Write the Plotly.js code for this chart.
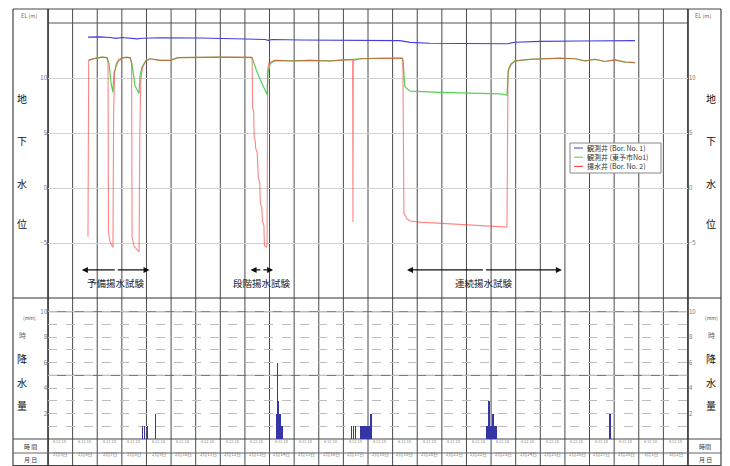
<!DOCTYPE html>
<html><head><meta charset="utf-8">
<script src="https://cdn.plot.ly/plotly-3.0.1.min.js"></script>
<style>html,body{margin:0;padding:0;background:#fff}#chart{width:730px;height:466px}</style>
</head><body><div id="chart"></div>
<script>
const YEAR = '2013-';
const seriesNames = ['観測井 (Bor. No. 1)', '観測井 (東予市No1)', '揚水井 (Bor. No. 2)'];
const seriesColors = ['#4040dc', '#55d055', '#ff3434'];

// 観測井 (Bor. No. 1)
const blueTimes = ['02-06 15:00','02-07 02:40','02-07 12:30','02-07 18:20','02-08 00:00','02-08 08:00','02-08 15:00','02-08 19:40','02-09 13:10','02-11 04:20','02-12 09:30','02-13 05:00','02-13 19:40','02-13 22:30','02-14 02:30','02-15 05:45','02-16 11:00','02-18 02:00','02-19 07:10','02-19 17:00','02-20 12:30','02-21 17:45','02-23 08:40','02-23 16:30','02-23 23:20','02-24 23:45','02-26 14:40','02-28 20:20'];
const blueLevels = [13.72,13.74,13.68,13.6,13.68,13.64,13.56,13.62,13.66,13.63,13.6,13.56,13.5,13.42,13.5,13.46,13.43,13.42,13.4,13.24,13.16,13.13,13.1,13.12,13.25,13.33,13.36,13.4];

// 観測井 (東予市No1)
const greenTimes = ['02-06 15:20','02-06 21:50','02-07 04:40','02-07 09:30','02-07 11:30','02-07 13:30','02-07 15:20','02-07 16:20','02-07 17:20','02-07 20:15','02-08 00:00','02-08 04:00','02-08 08:00','02-08 10:00','02-08 12:50','02-08 16:50','02-08 17:40','02-08 19:40','02-08 23:30','02-09 03:30','02-09 13:10','02-09 23:00','02-10 06:45','02-11 23:45','02-13 07:00','02-13 08:50','02-13 10:50','02-13 14:40','02-13 18:40','02-13 21:35','02-13 22:30','02-14 00:30','02-14 05:20','02-14 20:00','02-15 15:25','02-16 11:00','02-17 01:40','02-17 16:20','02-18 11:45','02-19 09:10','02-19 10:10','02-19 12:00','02-19 17:00','02-20 02:40','02-20 22:15','02-21 17:45','02-22 13:10','02-23 08:40','02-23 15:30','02-23 17:00','02-23 19:30','02-23 23:20','02-24 14:00','02-25 19:10','02-26 09:50','02-26 19:40','02-27 05:20','02-27 15:00','02-28 00:45','02-28 10:30','02-28 20:20'];
const greenLevels = [11.65,11.8,11.9,11.85,11.3,9.5,8.7,10.5,10.8,11.5,11.8,11.9,11.85,11.2,9.3,8.6,10.2,11.0,11.6,11.75,11.6,11.6,11.85,11.9,11.85,11.3,10.8,9.9,9.0,8.5,10.5,11.3,11.6,11.55,11.6,11.55,11.65,11.75,11.8,11.8,11.5,9.2,8.8,8.75,8.7,8.65,8.6,8.55,8.45,10.8,11.3,11.55,11.7,11.8,11.75,11.55,11.7,11.5,11.65,11.45,11.4];

// 揚水井 (Bor. No. 2)
const redTimes = ['02-06 15:00','02-06 15:40','02-06 20:00','02-07 04:40','02-07 09:30','02-07 10:30','02-07 11:00','02-07 12:30','02-07 14:00','02-07 15:20','02-07 16:00','02-07 17:00','02-07 18:30','02-07 21:00','02-08 02:00','02-08 08:00','02-08 09:30','02-08 10:00','02-08 12:00','02-08 14:30','02-08 16:50','02-08 17:30','02-08 18:30','02-08 20:00','02-08 23:00','02-09 03:30','02-09 13:10','02-09 23:00','02-10 06:45','02-11 23:45','02-13 06:00','02-13 07:00','02-13 07:30','02-13 08:30','02-13 09:00','02-13 10:00','02-13 10:30','02-13 12:00','02-13 13:00','02-13 14:30','02-13 15:00','02-13 16:30','02-13 17:00','02-13 18:30','02-13 19:00','02-13 21:00','02-13 21:40','02-13 22:10','02-13 23:30','02-14 05:20','02-14 20:00','02-15 15:25','02-16 11:00','02-17 01:40','02-17 09:00','02-17 09:20','02-17 09:40','02-17 16:20','02-18 11:45','02-19 09:10','02-19 10:00','02-19 10:30','02-19 11:00','02-19 14:00','02-19 17:00','02-20 02:40','02-20 22:15','02-21 17:45','02-22 13:10','02-23 08:40','02-23 15:30','02-23 16:30','02-23 19:30','02-23 23:20','02-24 14:00','02-25 19:10','02-26 09:50','02-26 19:40','02-27 05:20','02-27 15:00','02-28 00:45','02-28 10:30','02-28 20:20'];
const redLevels = [-4.4,11.55,11.75,11.9,11.85,11.5,-4.0,-4.9,-5.2,-5.4,7.0,10.5,11.3,11.7,11.85,11.85,11.4,-4.5,-5.3,-5.6,-5.8,5.0,9.8,10.9,11.5,11.75,11.6,11.6,11.85,11.9,11.9,11.8,7.3,7.0,4.6,4.3,3.6,3.2,1.0,0.4,-1.3,-1.8,-3.0,-3.4,-5.2,-5.4,-5.0,10.8,11.4,11.6,11.55,11.6,11.55,11.65,11.65,-3.1,11.6,11.75,11.8,11.8,11.7,-1.4,-2.3,-2.8,-3.0,-3.1,-3.2,-3.3,-3.35,-3.5,-3.55,10.6,11.2,11.55,11.7,11.8,11.75,11.55,11.7,11.5,11.65,11.45,11.4];

// 降水量 (mm)
const rainTimes = ['02-08 20:00','02-08 22:00','02-09 01:00','02-09 09:00','02-14 07:00','02-14 08:00','02-14 09:00','02-14 10:00','02-14 11:00','02-14 12:00','02-17 08:00','02-17 10:00','02-17 12:00','02-17 17:00','02-17 19:00','02-17 20:00','02-17 21:00','02-17 22:00','02-17 23:00','02-18 00:00','02-18 01:00','02-18 03:00','02-22 20:00','02-22 21:00','02-22 22:00','02-22 23:00','02-23 00:00','02-23 01:00','02-23 02:00','02-23 03:00','02-23 04:00','02-23 05:00','02-27 20:00'];
const rainMm = [1,1,1,2,2,6,3,2,1,1,1,1,1,1,1,1,1,1,1,1,1,2,1,1,3,1,1,1,2,1,1,1,2];

// table / tick labels
const dayLabels = ['2月5日','2月6日','2月7日','2月8日','2月9日','2月10日','2月11日','2月12日','2月13日','2月14日','2月15日','2月16日','2月17日','2月18日','2月19日','2月20日','2月21日','2月22日','2月23日','2月24日','2月25日','2月26日','2月27日','2月28日','3月1日','3月2日'];
const hourLabel = '6 12 18';
const levelTicks = [-5, 0, 5, 10];
const rainTicks = [2, 4, 6, 8, 10];

// test periods
const testNames = ['予備揚水試験', '段階揚水試験', '連続揚水試験'];
const testStart = ['02-06 09:00', '02-13 05:30', '02-19 14:00'];
const testEnd = ['02-09 03:00', '02-14 03:30', '02-25 21:00'];
const testMid = ['02-07 18:30', '02-13 16:30', '02-22 17:30'];

const d = s => YEAR + s;
const W = 730, H = 466;
const PX = p => p / W, PY = p => 1 - p / H;
const FONT = '"Noto Sans CJK JP", "Noto Sans", sans-serif';
const DAY = 86400000;
const t0 = Date.UTC(2013, 1, 5);

const traces = [
  {x: greenTimes.map(d), y: greenLevels, name: seriesNames[1], type: 'scatter', mode: 'lines',
   line: {color: seriesColors[1], width: 1.2}, xaxis: 'x', yaxis: 'y'},
  {x: redTimes.map(d), y: redLevels, name: seriesNames[2], type: 'scatter', mode: 'lines',
   line: {color: seriesColors[2], width: 1.1}, opacity: 0.6, xaxis: 'x', yaxis: 'y'},
  {x: blueTimes.map(d), y: blueLevels, name: seriesNames[0], type: 'scatter', mode: 'lines',
   line: {color: seriesColors[0], width: 1.1}, xaxis: 'x', yaxis: 'y'},
  {x: rainTimes.map(d), y: rainMm, type: 'bar', width: 3600000 * 1.4,
   marker: {color: '#3535a5', line: {width: 0}}, xaxis: 'x2', yaxis: 'y2'},
  {x: [], y: [], xaxis: 'x', yaxis: 'y3', type: 'scatter'},
  {x: [], y: [], xaxis: 'x2', yaxis: 'y4', type: 'scatter'}
];

const shapes = [];
const line = (x0, y0, x1, y1, color, width) => ({type: 'line', xref: 'paper', yref: 'paper',
  x0: PX(x0), y0: PY(y0), x1: PX(x1), y1: PY(y1), line: {color: color, width: width}, layer: 'below'});

// vertical day lines
for (let i = 0; i <= dayLabels.length; i++) {
  shapes.push({type: 'line', xref: 'x', yref: 'paper', x0: t0 + i * DAY, x1: t0 + i * DAY,
    y0: 0, y1: PY(9), line: {color: '#4a4a4a', width: 1}, layer: 'below'});
}
// frame
shapes.push(line(13, 9, 721, 9, '#444', 1));
shapes.push(line(13, 9, 13, 466, '#444', 1.2));
shapes.push(line(721, 9, 721, 466, '#444', 1.2));
shapes.push(line(48, 9, 48, 466, '#333', 1.6));
shapes.push(line(688, 9, 688, 466, '#333', 1.6));
shapes.push(line(48, 23, 688, 23, '#555', 1));
shapes.push(line(13, 298, 721, 298, '#333', 1.2));
shapes.push(line(13, 439, 721, 439, '#444', 1));
shapes.push(line(13, 453, 721, 453, '#666', 1));
shapes.push(line(13, 465.5, 721, 465.5, '#444', 1));
[5, 10].forEach(v => shapes.push({type: 'line', xref: 'paper', yref: 'y2', x0: PX(48), x1: PX(688), y0: v, y1: v,
  line: {color: '#666', width: 1}, layer: 'below'}));

const annotations = [];
const txt = (px, py, text, size, color, extra) => Object.assign({xref: 'paper', yref: 'paper', x: PX(px), y: PY(py),
  text: text, showarrow: false, xanchor: 'center', yanchor: 'middle', font: {family: FONT, size: size, color: color}}, extra || {});

// custom compact legend
shapes.push({type: 'rect', xref: 'paper', yref: 'paper', x0: PX(570), x1: PX(661), y0: PY(173), y1: PY(143),
  fillcolor: '#fff', line: {color: '#888', width: 1}, layer: 'above'});
seriesNames.forEach((nm, i) => {
  const py = 148 + i * 9.2;
  shapes.push({type: 'line', xref: 'paper', yref: 'paper', x0: PX(574), x1: PX(583), y0: PY(py), y1: PY(py),
    line: {color: seriesColors[i], width: 1}, layer: 'above'});
  annotations.push(txt(585, py, nm, 7, '#333', {xanchor: 'left'}));
});

annotations.push(txt(29, 16, 'EL (m)', 5.5, '#666'));
annotations.push(txt(703, 16, 'EL (m)', 5.5, '#666'));
['地', '下', '水', '位'].forEach((c, i) => {
  const py = [99, 140, 183, 223][i];
  annotations.push(txt(22, py, c, 10, '#111'));
  annotations.push(txt(711, py, c, 10, '#111'));
});
annotations.push(txt(29, 317, '(mm)', 5, '#555'));
annotations.push(txt(711, 317, '(mm)', 5, '#555'));
['時', '降', '水', '量'].forEach((c, i) => {
  const py = [335, 358, 382, 405][i];
  const sz = i === 0 ? 7 : 10;
  const col = i === 0 ? '#666' : '#111';
  annotations.push(txt(22, py, c, sz, col));
  annotations.push(txt(711, py, c, sz, col));
});
annotations.push(txt(30, 446, '時 間', 6, '#333'));
annotations.push(txt(30, 459.5, '月 日', 6, '#333'));
annotations.push(txt(705, 446, '時間', 6, '#333'));
annotations.push(txt(705, 459.5, '月 日', 6, '#333'));

dayLabels.forEach((lab, i) => {
  const xm = t0 + i * DAY + DAY / 2;
  annotations.push({xref: 'x', yref: 'paper', x: xm, y: PY(446), text: hourLabel, showarrow: false,
    font: {family: FONT, size: 4, color: '#888'}});
  annotations.push({xref: 'x', yref: 'paper', x: xm, y: PY(459.5), text: lab, showarrow: false,
    font: {family: FONT, size: 4.6, color: '#777'}});
});

testNames.forEach((name, i) => {
  [testStart[i], testEnd[i]].forEach(endp => {
    annotations.push({xref: 'x', yref: 'y', x: d(endp), y: -7.45, axref: 'x', ayref: 'y', ax: d(testMid[i]), ay: -7.45,
      text: '', showarrow: true, arrowhead: 2, arrowsize: 1, arrowwidth: 1.2, arrowcolor: '#111', standoff: 0, startstandoff: 0});
  });
  annotations.push({xref: 'x', yref: 'y', x: d(testMid[i]), y: -8.64, text: name, showarrow: false,
    font: {family: FONT, size: 9.5, color: '#222'}});
});

const xBase = {type: 'date', domain: [PX(48), PX(688)], range: [t0, t0 + dayLabels.length * DAY],
  showticklabels: false, showgrid: false, zeroline: false, ticks: '', showline: false, fixedrange: true};
const tickFont = {family: FONT, size: 6, color: '#777'};

const layout = {
  width: W, height: H, margin: {l: 0, r: 0, t: 0, b: 0},
  paper_bgcolor: '#fff', plot_bgcolor: 'rgba(0,0,0,0)',
  showlegend: false,
  xaxis: Object.assign({}, xBase, {anchor: 'y'}),
  xaxis2: Object.assign({}, xBase, {anchor: 'y2', matches: 'x'}),
  yaxis: {domain: [PY(298), PY(23)], range: [-10, 15], tickmode: 'array', tickvals: levelTicks, showgrid: true,
    gridcolor: '#d2d2d2', gridwidth: 1, zeroline: false, ticks: '', tickfont: tickFont, anchor: 'x', fixedrange: true},
  yaxis3: {overlaying: 'y', side: 'right', range: [-10, 15], tickmode: 'array', tickvals: levelTicks, showgrid: false,
    zeroline: false, ticks: '', tickfont: tickFont, anchor: 'x', fixedrange: true},
  yaxis2: {domain: [PY(439), PY(299)], range: [0, 11], tickmode: 'array', tickvals: rainTicks, showgrid: true,
    gridcolor: '#bdbdbd', griddash: 'dash', gridwidth: 1, zeroline: false, ticks: '', tickfont: tickFont, anchor: 'x2',
    minor: {tickmode: 'linear', tick0: 0, dtick: 1, showgrid: true, gridcolor: '#bdbdbd', griddash: 'dash', gridwidth: 1, ticks: ''},
    fixedrange: true},
  yaxis4: {overlaying: 'y2', side: 'right', range: [0, 11], tickmode: 'array', tickvals: rainTicks, showgrid: false,
    zeroline: false, ticks: '', tickfont: tickFont, anchor: 'x2', fixedrange: true},
  shapes: shapes,
  annotations: annotations,
  bargap: 0
};

Plotly.newPlot('chart', traces, layout, {staticPlot: true, displayModeBar: false});
</script>
</body></html>
